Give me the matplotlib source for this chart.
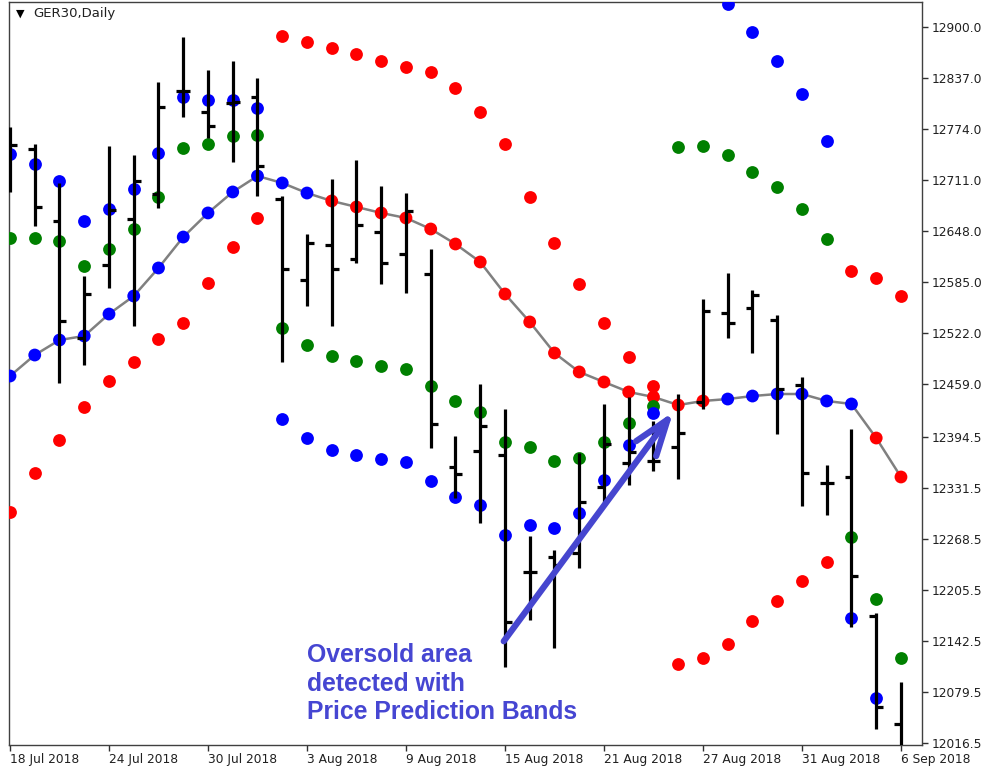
import numpy as np
import pandas as pd
import matplotlib
matplotlib.use('Agg')
import matplotlib.pyplot as plt

# trading days shown on the chart
dates = pd.bdate_range('2018-07-18', '2018-09-06')

# daily OHLC (GER30)
opens = [12748, 12749.5, 12660.5, 12516, 12606.5, 12663, 12694, 12821, 12795, 12806,
         12813.5, 12687.5, 12588, 12631, 12613.5, 12647, 12620, 12595, 12357, 12377,
         12372, 12227.5, 12246, 12251, 12332.5, 12362, 12364.5, 12381.5, 12437, 12547,
         12553, 12538.5, 12458, 12337.5, 12344.5, 12173, 12040]
highs = [12776.5, 12755.5, 12707.5, 12592.5, 12753, 12742, 12832, 12887.5, 12847, 12858,
         12837, 12691.5, 12644.5, 12712.5, 12736, 12704, 12695, 12626, 12395.5, 12459.5,
         12428.5, 12272, 12254.5, 12374.5, 12435, 12443.5, 12414, 12447, 12564.5, 12596.5,
         12575.5, 12544.5, 12468, 12359.5, 12404, 12177, 12091.5]
lows = [12696.5, 12654.5, 12460.5, 12483, 12578, 12531, 12676.5, 12789, 12763, 12733.5,
        12691.5, 12486.5, 12555.5, 12531, 12609, 12583, 12571.5, 12380.5, 12319, 12288,
        12110, 12168, 12133.5, 12232.5, 12312.5, 12335, 12352, 12342, 12428.5, 12516,
        12497.5, 12397.5, 12309, 12298, 12159.5, 12033.5, 11990]
closes = [12754.5, 12678, 12537, 12570.5, 12674, 12710, 12801.5, 12821, 12778, 12807.5,
          12728.5, 12601.5, 12633.5, 12601.5, 12655.5, 12609, 12673, 12410, 12348.5, 12407.5,
          12166, 12227.5, 12236, 12314, 12385.5, 12375.5, 12364.5, 12399, 12549.5, 12534.5,
          12569.5, 12453.5, 12349.5, 12337.5, 12222.5, 12061, 12005]

# Price Prediction Bands
mid_line = [12469.3, 12495.2, 12513.7, 12518.7, 12545.8, 12568.0, 12602.6, 12640.8, 12670.5, 12696.4,
            12716.1, 12707.5, 12695.1, 12685.3, 12677.9, 12670.5, 12664.3, 12650.7, 12632.2, 12610.0,
            12570.5, 12536.0, 12497.7, 12474.3, 12461.9, 12449.6, 12443.4, 12433.5, 12438.5, 12440.9,
            12444.6, 12447.1, 12447.1, 12438.5, 12434.8, 12392.8, 12344.7]
mid_up = [True] * 13 + [False] * 16 + [True] * 6 + [False] * 2
red_band = [12301.5, 12349.6, 12390.3, 12431.1, 12463.1, 12486.6, 12515.0, 12534.7, 12584.1, 12628.5,
            12664.3, 12888.9, 12881.5, 12874.1, 12866.7, 12858.0, 12850.6, 12844.5, 12824.7, 12795.1,
            12755.6, 12690.2, 12633.4, 12582.8, 12534.7, 12492.8, 12457.0, 12113.9, 12121.3, 12138.6,
            12167.0, 12191.7, 12216.3, 12239.8, 12598.9, 12590.2, 12568.0]
green_band = [12639.6, 12639.6, 12635.9, 12605.1, 12626.0, 12650.7, 12690.2, 12750.7, 12755.6, 12765.5,
              12766.7, 12528.5, 12507.6, 12494.0, 12487.8, 12481.7, 12478.0, 12457.0, 12438.5, 12424.9,
              12387.9, 12381.7, 12364.4, 12368.1, 12387.9, 12411.3, 12432.3, 12751.9, 12753.1, 12742.0,
              12721.1, 12702.5, 12675.4, 12638.4, 12270.6, 12194.1, 12121.3]
blue_band = [12743.3, 12730.9, 12709.9, 12660.6, 12675.4, 12700.1, 12744.5, 12813.6, 12809.9, 12809.9,
             12800.0, 12416.3, 12392.8, 12378.0, 12371.8, 12366.9, 12363.2, 12339.7, 12320.0, 12310.1,
             12273.1, 12285.4, 12281.7, 12300.3, 12341.0, 12384.2, 12423.7, np.nan, np.nan, 12928.4,
             12893.8, 12858.0, 12817.3, 12759.3, 12170.7, 12072.0, np.nan]

price_ticks = [12900.0, 12837.0, 12774.0, 12711.0, 12648.0, 12585.0, 12522.0, 12459.0,
               12394.5, 12331.5, 12268.5, 12205.5, 12142.5, 12079.5, 12016.5]

note = 'Oversold area\ndetected with\nPrice Prediction Bands'
arrow_from = (19.95, 12142)
arrow_to = (26.8, 12425)

x = np.arange(len(dates))
fig = plt.figure(figsize=(9.87, 7.75), dpi=100)
ax = fig.add_axes([9 / 987, 30 / 775, 913 / 987, 743 / 775])

# bands
ax.plot(x, mid_line, color='#808080', lw=1.8, zorder=2)
mid_cols = ['#0000ff' if u else '#ff0000' for u in mid_up]
ax.scatter(x, mid_line, c=mid_cols, s=85, zorder=3, linewidths=0)
ax.scatter(x, red_band, color='#ff0000', s=85, zorder=3, linewidths=0)
ax.scatter(x, green_band, color='#008000', s=85, zorder=3, linewidths=0)
ax.scatter(x, blue_band, color='#0000ff', s=85, zorder=3, linewidths=0)

# OHLC bars
tw = 0.28
ax.vlines(x, lows, highs, color='black', lw=2.3, zorder=4)
ax.hlines(opens, x - tw, x, color='black', lw=2.3, zorder=4)
ax.hlines(closes, x, x + tw, color='black', lw=2.3, zorder=4)

ax.set_xlim(-0.04, 36.85)
ax.set_ylim(12014.0, 12930.8)

ax.set_xticks(x[::4])
ax.set_xticklabels([f'{d.day} {d:%b %Y}' for d in dates[::4]], ha='left')
ax.set_yticks(price_ticks)
ax.set_yticklabels([f'{v:.1f}' for v in price_ticks])
ax.yaxis.tick_right()
ax.tick_params(axis='both', direction='out', length=4, width=1, color='#303030',
               labelsize=8.8, labelcolor='#202020')
ax.tick_params(axis='x', pad=2)
ax.tick_params(axis='y', pad=3)
for s in ax.spines.values():
    s.set_color('#404040')
    s.set_linewidth(1)

# annotation
ax.annotate('', xy=arrow_to, xytext=arrow_from,
            arrowprops=dict(arrowstyle='->,head_length=1.3,head_width=0.45', lw=4.5,
                            color='#4646cf', mutation_scale=20, shrinkA=0, shrinkB=0),
            zorder=5)
ax.text(12.0, 12140, note, color='#4646d2', fontsize=17.8, fontweight='bold',
        family='Liberation Sans', va='top', ha='left', linespacing=1.25, zorder=5)

fig.text(20 / 987, 1 - 14 / 775, '\u25bc', fontsize=8, ha='center', va='center', color='black')
fig.text(33 / 987, 1 - 14 / 775, 'GER30,Daily', fontsize=9.5, ha='left', va='center', color='#202020')

fig.savefig('out.png', dpi=100)
